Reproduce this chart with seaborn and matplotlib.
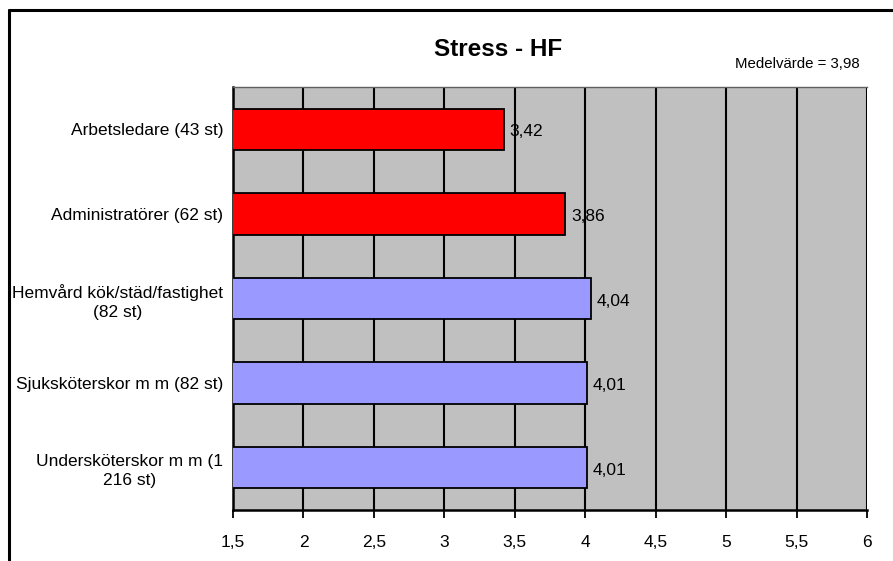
import matplotlib
matplotlib.use("Agg")
import matplotlib.pyplot as plt
import seaborn as sns
import pandas as pd
from matplotlib.lines import Line2D

categories = [
    "Arbetsledare (43 st)",
    "Administratörer (62 st)",
    "Hemvård kök/städ/fastighet\n(82 st)",
    "Sjuksköterskor m m (82 st)",
    "Undersköterskor m m (1\n216 st)",
]
values = [3.42, 3.86, 4.04, 4.01, 4.01]
groups = ["chef", "chef", "personal", "personal", "personal"]
palette = {"chef": "#FF0000", "personal": "#9999FF"}
xticks = [1.5, 2, 2.5, 3, 3.5, 4, 4.5, 5, 5.5, 6]
title = "Stress - HF"
mean_text = "Medelvärde = 3,98"

df = pd.DataFrame({"kategori": categories, "varde": values, "grupp": groups})

sns.set_style("white")
plt.rcParams["font.family"] = ["Liberation Sans", "DejaVu Sans"]
plt.rcParams["text.color"] = "black"
plt.rcParams["xtick.color"] = "black"
plt.rcParams["ytick.color"] = "black"
plt.rcParams["xtick.labelcolor"] = "black"
plt.rcParams["ytick.labelcolor"] = "black"

fig = plt.figure(figsize=(8.93, 5.61), dpi=100)
ax = fig.add_axes([233 / 893, 1 - 510 / 561, (867 - 233) / 893, (510 - 87) / 561])
ax.set_facecolor("#C0C0C0")

sns.barplot(data=df, x="varde", y="kategori", hue="grupp", palette=palette,
            order=categories, orient="h", width=0.49, edgecolor="black",
            linewidth=1.3, saturation=1, legend=False, ax=ax, zorder=3)

ax.set_xlim(1.5, 6)
ax.set_xticks(xticks)
ax.set_xticklabels([f"{t:g}".replace(".", ",") for t in xticks], fontsize=12.5)
ax.tick_params(axis="x", bottom=True, direction="out", length=6, width=1.3,
               color="black", pad=12)
ax.tick_params(axis="y", left=False, length=0, pad=7, labelsize=12.5)
for lbl in ax.get_yticklabels():
    lbl.set_multialignment("center")
    lbl.set_linespacing(1.35)
ax.set_xlabel("")
ax.set_ylabel("")

for t in xticks:
    ax.axvline(t, color="black", lw=1.5, zorder=1)

for side in ["left", "bottom"]:
    ax.spines[side].set_color("black")
    ax.spines[side].set_linewidth(1.8)
ax.spines["right"].set_visible(False)
ax.spines["top"].set_color("#606060")
ax.spines["top"].set_linewidth(1.0)

for i, v in enumerate(values):
    ax.text(v + 0.04, i + 0.03, f"{v:.2f}".replace(".", ","), va="center", ha="left",
            fontsize=12.5, color="black", zorder=4)

fig.text(0.558, 0.912, title, ha="center", va="center", fontsize=17.5, fontweight="bold")
fig.text(0.823, 0.886, mean_text, ha="left", va="center", fontsize=10.8)

# frame lines along the top and left of the figure
fig.add_artist(Line2D([9 / 893, 1], [1 - 10 / 561, 1 - 10 / 561], color="black", lw=2.2,
                      transform=fig.transFigure))
fig.add_artist(Line2D([9 / 893, 9 / 893], [0, 1 - 10 / 561], color="black", lw=2.2,
                      transform=fig.transFigure))

fig.savefig("out.png", dpi=100)
